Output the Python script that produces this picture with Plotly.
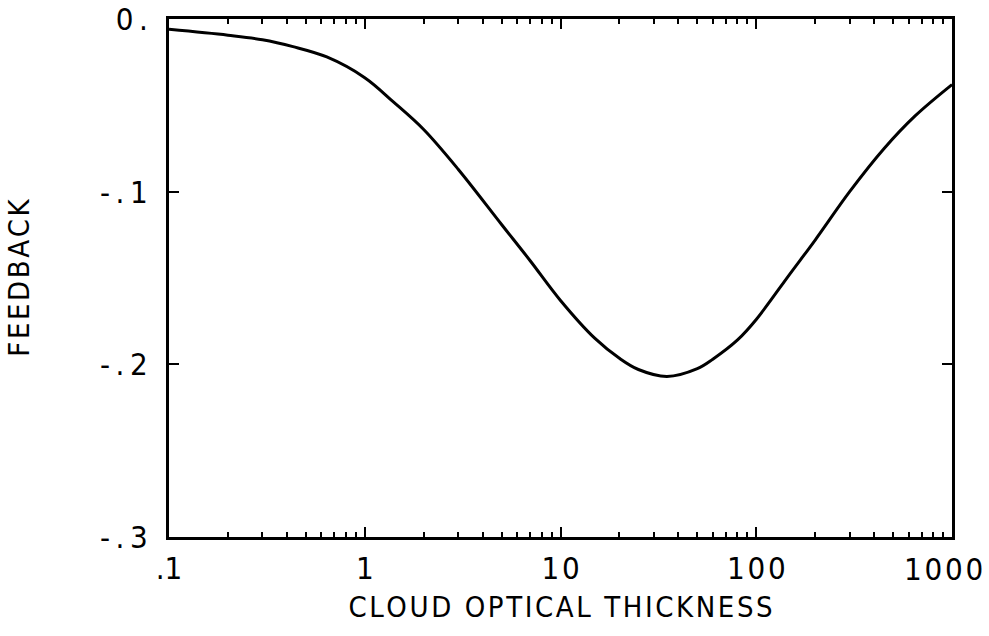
import plotly.graph_objects as go

# Data
tau = [0.1, 0.2, 0.3, 0.43, 0.64, 1, 1.4, 2, 3, 5, 7, 10, 15, 20, 25, 35,
       50, 60, 80, 100, 150, 200, 300, 450, 650, 1000]
feedback = [-0.006, -0.0094, -0.012, -0.016, -0.022, -0.034, -0.048, -0.064, -0.087,
            -0.119, -0.140, -0.163, -0.185, -0.1965, -0.203, -0.207,
            -0.2025, -0.197, -0.186, -0.174, -0.147, -0.128, -0.100, -0.075, -0.056, -0.038]

TS = "\u2009"
HS = "\u200a"
x_tickvals = [0.1, 1, 10, 100, 1000]
x_ticktext = [".1", "1", HS.join("10"), HS.join("100"), HS.join("1000")]
y_tickvals = [0, -0.1, -0.2, -0.3]
y_ticktext = ["0" + TS + ".", "-" + TS + "." + TS + "1", "-" + TS + "." + TS + "2", "-" + TS + "." + TS + "3"]
minor_vals = [m * d for d in [0.1, 1, 10, 100] for m in range(2, 10)]

x_title = HS.join("CLOUD OPTICAL THICKNESS")
y_title = HS.join("FEEDBACK")

FONT = "DejaVu Sans Condensed, DejaVu Sans, sans-serif"
TICK_SIZE = 31

fig = go.Figure()
fig.add_trace(go.Scatter(x=tau, y=feedback, mode="lines",
                         line=dict(color="black", width=3, shape="spline", smoothing=1),
                         showlegend=False, hoverinfo="skip"))

fig.update_layout(
    width=989, height=636,
    margin=dict(l=169, r=37, t=19, b=99),
    paper_bgcolor="white", plot_bgcolor="white",
    font=dict(family=FONT, color="black", size=30),
    showlegend=False,
)
# the last tick label sits at the right edge; draw it as an annotation nudged left so it stays inside
fig.update_xaxes(
    type="log", range=[-1, 3],
    tickmode="array", tickvals=x_tickvals, ticktext=x_ticktext[:-1] + [""],
    ticks="inside", ticklen=10, tickwidth=2, tickcolor="black",
    minor=dict(tickmode="array", tickvals=minor_vals, ticks="inside", ticklen=5,
               tickwidth=2, tickcolor="black", showgrid=False),
    showline=True, linewidth=3, linecolor="black", mirror="ticks",
    showgrid=False, zeroline=False,
    tickfont=dict(size=TICK_SIZE, family=FONT),
    ticklabelstandoff=2, ticklabeloverflow="allow",
    title=dict(text=x_title, font=dict(size=29, family=FONT), standoff=12),
    automargin=False,
)
fig.add_annotation(x=3, xref="x", y=0, yref="paper", text=x_ticktext[-1],
                   showarrow=False, xanchor="center", yanchor="top", xshift=-9, yshift=-12,
                   font=dict(size=TICK_SIZE, family=FONT, color="black"))
fig.update_yaxes(
    range=[-0.3, 0],
    tickmode="array", tickvals=y_tickvals, ticktext=y_ticktext,
    ticks="inside", ticklen=10, tickwidth=2, tickcolor="black",
    showline=True, linewidth=3, linecolor="black", mirror="ticks",
    showgrid=False, zeroline=False,
    tickfont=dict(size=TICK_SIZE, family=FONT),
    ticklabelstandoff=12, ticklabeloverflow="allow",
    title=dict(text=y_title, font=dict(size=29, family=FONT), standoff=62),
    automargin=False,
)

fig.write_html("out.html", config={"displayModeBar": False},
               post_script="document.body.style.margin='0';document.body.style.overflow='hidden';")
